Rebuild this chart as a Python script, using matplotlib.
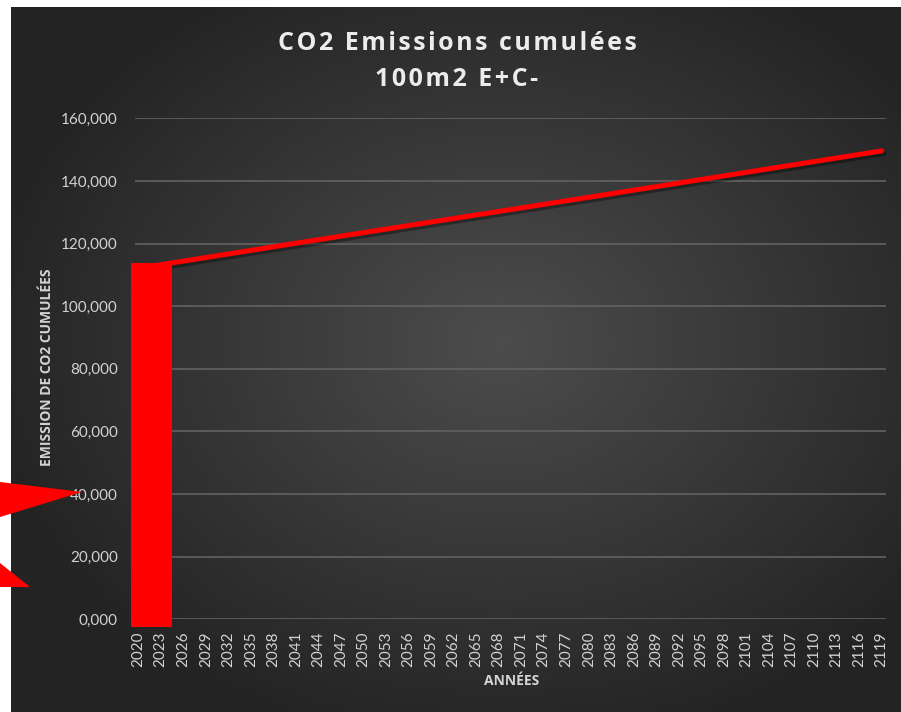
import matplotlib.pyplot as plt
import matplotlib.patheffects as pe
from matplotlib.patches import Polygon, Rectangle
import numpy as np

# Emissions cumulées (points relevés le long de la droite)
annees = [2020, 2041, 2062, 2083, 2104, 2119]
emissions = [112100, 120100, 128000, 135900, 143900, 149600]

# Axe des années : une étiquette tous les 3 ans
annees_ticks = list(range(2020, 2120, 3))
y_ticks = [0, 20000, 40000, 60000, 80000, 100000, 120000, 140000, 160000]
y_labels = ['0,000', '20,000', '40,000', '60,000', '80,000',
            '100,000', '120,000', '140,000', '160,000']

# Bloc rouge : émissions de construction
bloc_annees = (2019.0, 2024.5)
bloc_hauteur = 113900

titre = ['CO2 Emissions cumulées', '100m2 E+C-']

W, H = 901, 712
fig = plt.figure(figsize=(W / 100, H / 100), dpi=100)
fig.patch.set_facecolor('white')

# Fond dégradé radial du graphique
bg = fig.add_axes([11 / W, 0, (W - 11) / W, (H - 7) / H])
gx, gy = np.meshgrid(np.linspace(-1, 1, 400), np.linspace(-1, 1, 320))
r = np.sqrt(((gx - 0.1) / 1.1) ** 2 + ((gy + 0.05) / 1.1) ** 2)
niveau = np.clip(0.30 - 0.15 * r, 0.14, 0.30)
bg.imshow(np.dstack([niveau] * 3), aspect='auto', extent=(0, 1, 0, 1))
bg.set_axis_off()

ax = fig.add_axes([134.5 / W, 1 - 619.3 / H, 751 / W, 501 / H])
ax.set_facecolor('none')
ax.set_xlim(2019.5, 2119.5)
ax.set_ylim(0, 160000)

ax.plot(annees, emissions, color='#ff0000', linewidth=3.6, solid_capstyle='round',
        zorder=3,
        path_effects=[pe.SimpleLineShadow(offset=(1.5, -2), shadow_color='black', alpha=0.35),
                      pe.Normal()])

ax.add_patch(Rectangle((bloc_annees[0], -2300), bloc_annees[1] - bloc_annees[0],
                       bloc_hauteur + 2300, facecolor='#ff0000', edgecolor='none',
                       zorder=4, clip_on=False))

ax.set_yticks(y_ticks, y_labels)
ax.set_xticks(annees_ticks, [str(a) for a in annees_ticks], rotation=90)
ax.tick_params(axis='both', length=0, colors='#d2d2d2', labelsize=11)
ax.tick_params(axis='y', pad=12)
ax.tick_params(axis='x', pad=9)
for lab in ax.get_xticklabels() + ax.get_yticklabels():
    lab.set_family('Lato')

ax.grid(axis='y', color='#626262', linewidth=1.2)
ax.set_axisbelow(True)
for s in ax.spines.values():
    s.set_visible(False)

ax.set_ylabel('EMISSION DE CO2 CUMULÉES', family='Open Sans', fontsize=10,
              fontweight='bold', color='#d4d4d4')
ax.yaxis.set_label_coords((54 - 134.5) / 751, (619.3 - 367) / 501)
ax.set_xlabel('ANNÉES', family='Open Sans', fontsize=10, fontweight='bold',
              color='#d4d4d4')
ax.xaxis.set_label_coords((512 - 134.5) / 751, -(674 - 619.3) / 501)

# Titre (espacement des lettres élargi)
for i, ligne in enumerate(titre):
    fig.text(457 / W, 1 - (43 + 37 * i) / H, '\u200a'.join(ligne), ha='center',
             va='center', family=['Open Sans', 'DejaVu Sans'], fontsize=18,
             fontweight='bold', color='#ececec')

# Flèches rouges sur le bord gauche
for pts in ([(0, 482), (82, 492), (0, 517)], [(0, 563), (30, 587), (0, 587)]):
    fig.add_artist(Polygon([(x / W, 1 - y / H) for x, y in pts], closed=True,
                           facecolor='#ff0000', edgecolor='none',
                           transform=fig.transFigure, zorder=10))

plt.savefig('out.png', dpi=100)
